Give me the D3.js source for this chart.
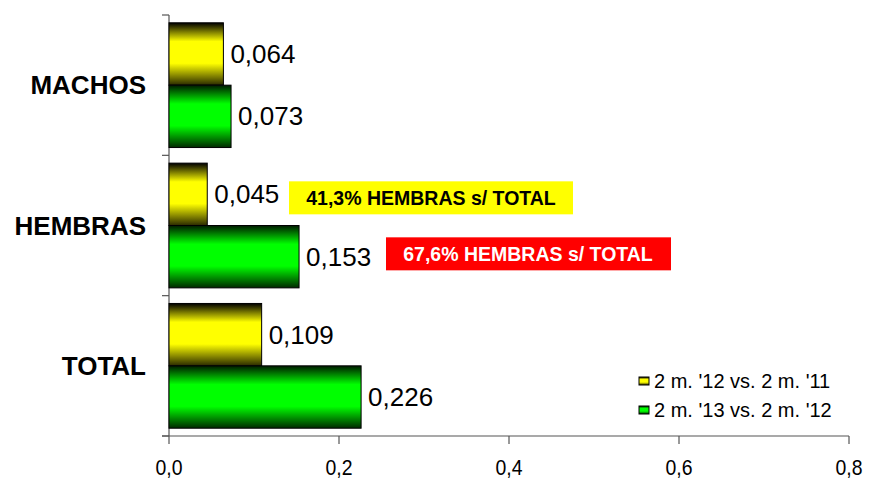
<!DOCTYPE html>
<html>
<head>
    <meta charset="UTF-8">
    <title>Machos / Hembras</title>
    <script src="https://d3js.org/d3.v7.min.js"></script>
    <style>
        body { margin: 0; background: #fff; }
        text { font-family: "Liberation Sans", Arial, sans-serif; }
    </style>
</head>
<body>
<svg width="869" height="480"></svg>
<script>
    // datos
    var categories = ["MACHOS", "HEMBRAS", "TOTAL"];
    var seriesNames = ["2 m. '12 vs. 2 m. '11", "2 m. '13 vs. 2 m. '12"];
    var serie1 = [0.064, 0.045, 0.109];
    var serie2 = [0.073, 0.153, 0.226];
    var xTicks = [0, 0.2, 0.4, 0.6, 0.8];
    var notes = ["41,3% HEMBRAS s/ TOTAL", "67,6% HEMBRAS s/ TOTAL"];

    var svg = d3.select("svg");
    var x0 = 169, x1 = 849, y0 = 15, y1 = 436;

    var xScale = d3.scaleLinear().domain([0, 0.8]).range([x0, x1]);
    var yScale = d3.scaleBand().domain(categories).range([y0, y1]).paddingInner(0).paddingOuter(0);
    var inner = d3.scaleBand().domain([0, 1]).range([0, yScale.bandwidth()]).paddingOuter(0.125).paddingInner(0);

    var fmt = function (v) { return d3.format(".3f")(v).replace(".", ","); };

    // degradados
    var defs = svg.append("defs");
    function grad(id, dark, bright, darkBottom) {
        var g = defs.append("linearGradient").attr("id", id)
            .attr("x1", 0).attr("y1", 0).attr("x2", 0).attr("y2", 1);
        g.append("stop").attr("offset", "0%").attr("stop-color", dark);
        g.append("stop").attr("offset", "30%").attr("stop-color", bright);
        g.append("stop").attr("offset", "65%").attr("stop-color", bright);
        g.append("stop").attr("offset", "100%").attr("stop-color", darkBottom);
    }
    grad("gy", "#000000", "#ffff00", "#2a2a00");
    grad("gg", "#001a00", "#00ff00", "#002a00");
    var fills = ["url(#gy)", "url(#gg)"];

    // ejes
    var axisColor = "#555";
    svg.append("line").attr("x1", x0).attr("x2", x0).attr("y1", y0).attr("y2", y1)
        .attr("stroke", axisColor).attr("stroke-width", 1.2);
    svg.append("line").attr("x1", x0 - 7).attr("x2", x1).attr("y1", y1).attr("y2", y1)
        .attr("stroke", axisColor).attr("stroke-width", 1.2);
    var yEdges = categories.map(function (c) { return yScale(c); }).concat([y1]);
    svg.selectAll(".ytick").data(yEdges).enter().append("line")
        .attr("x1", x0 - 7).attr("x2", x0)
        .attr("y1", function (d) { return d; }).attr("y2", function (d) { return d; })
        .attr("stroke", axisColor).attr("stroke-width", 1.2);
    svg.selectAll(".xtick").data(xTicks).enter().append("line")
        .attr("x1", function (d) { return xScale(d); }).attr("x2", function (d) { return xScale(d); })
        .attr("y1", y1).attr("y2", y1 + 8)
        .attr("stroke", axisColor).attr("stroke-width", 1.2);
    svg.selectAll(".xlab").data(xTicks).enter().append("text")
        .attr("x", function (d) { return xScale(d); }).attr("y", 475)
        .attr("text-anchor", "middle").attr("font-size", 22)
        .attr("textLength", 27).attr("lengthAdjust", "spacingAndGlyphs")
        .text(function (d) { return d3.format(".1f")(d).replace(".", ","); });

    svg.selectAll(".cat").data(categories).enter().append("text")
        .attr("x", 146).attr("y", function (d) { return yScale(d) + yScale.bandwidth() / 2; })
        .attr("dy", "0.35em").attr("text-anchor", "end")
        .attr("font-size", 26).attr("font-weight", "bold")
        .text(function (d) { return d; });

    // barras
    [serie1, serie2].forEach(function (serie, s) {
        var gs = svg.append("g");
        gs.selectAll("rect").data(serie).enter().append("rect")
            .attr("x", x0)
            .attr("y", function (d, i) { return yScale(categories[i]) + inner(s); })
            .attr("width", function (d) { return xScale(d) - x0; })
            .attr("height", inner.bandwidth())
            .attr("fill", fills[s]).attr("stroke", "#000").attr("stroke-width", 1);
        gs.selectAll("text").data(serie).enter().append("text")
            .attr("x", function (d) { return xScale(d) + 7; })
            .attr("y", function (d, i) { return yScale(categories[i]) + inner(s) + inner.bandwidth() / 2; })
            .attr("dy", "0.35em").attr("font-size", 26)
            .text(fmt);
    });

    // notas
    var hy = yScale("HEMBRAS");
    svg.append("rect").attr("x", 289).attr("y", hy + 26).attr("width", 284).attr("height", 33).attr("fill", "#ffff00");
    svg.append("text").attr("x", 431).attr("y", hy + 43).attr("dy", "0.35em")
        .attr("text-anchor", "middle").attr("font-size", 19.5).attr("font-weight", "bold").attr("fill", "#000")
        .text(notes[0]);
    svg.append("rect").attr("x", 386).attr("y", hy + 82).attr("width", 285).attr("height", 33).attr("fill", "#ff0000");
    svg.append("text").attr("x", 528).attr("y", hy + 99).attr("dy", "0.35em")
        .attr("text-anchor", "middle").attr("font-size", 19.5).attr("font-weight", "bold").attr("fill", "#fff")
        .text(notes[1]);

    // leyenda
    var lg = svg.selectAll(".leg").data(seriesNames).enter().append("g")
        .attr("transform", function (d, i) { return "translate(639," + (381 + i * 29) + ")"; });
    lg.append("rect").attr("x", 0).attr("y", -4).attr("width", 10).attr("height", 8)
        .attr("fill", function (d, i) { return fills[i]; }).attr("stroke", "#000").attr("stroke-width", 1);
    lg.append("text").attr("x", 15).attr("y", 0).attr("dy", "0.35em").attr("font-size", 20)
        .text(function (d) { return d; });
</script>
</body>
</html>
